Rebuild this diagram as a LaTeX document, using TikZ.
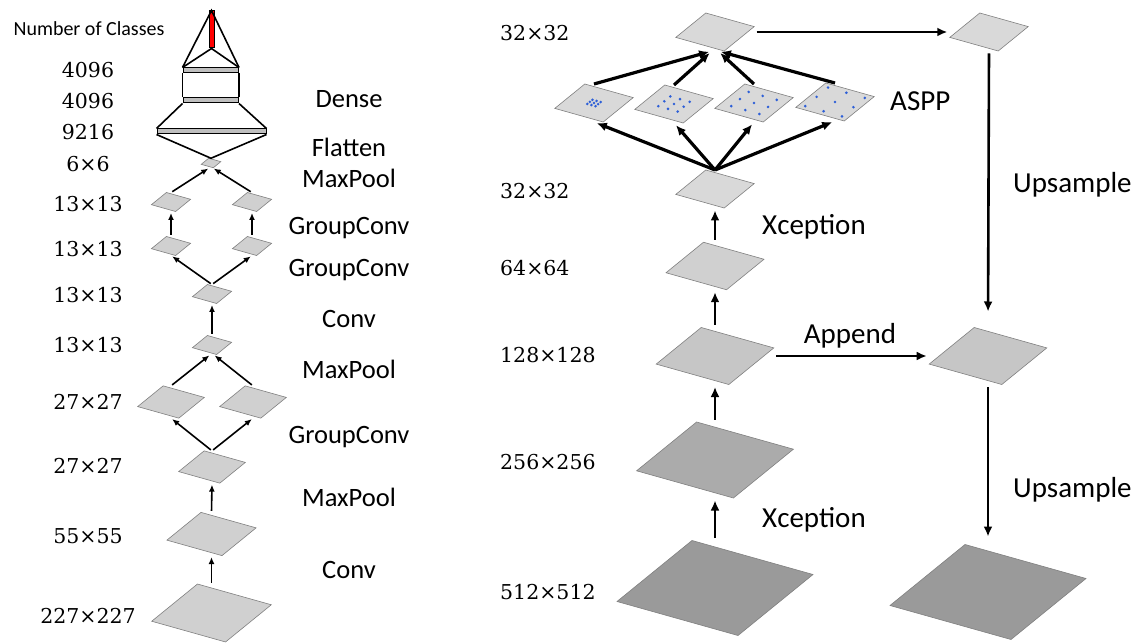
\documentclass[tikz,border=0pt]{standalone}
\usepackage{fontspec}
\setmainfont{Carlito}
\newfontfamily\dimfont{DejaVu Serif}
\usetikzlibrary{arrows.meta,calc}

\definecolor{mapA}{HTML}{D9D9D9}
\definecolor{mapB}{HTML}{C6C6C6}
\definecolor{mapC}{HTML}{ABABAB}
\definecolor{mapD}{HTML}{9A9A9A}
\definecolor{mapL}{HTML}{D0D0D0}
\definecolor{dotblue}{RGB}{45,95,215}

% feature map: name, centre, scale, fill
\newcommand{\fmap}[4]{%
  \coordinate (#1) at (#2);
  \filldraw[fill=#4, draw=black!50, line width=0.6pt, shift={(#1)}, scale=#3]
    (-98,13.5) -- (-23,-47.5) -- (98,-13.5) -- (23,47.5) -- cycle;
  \path (#1) ++(0,-47.5*#3) coordinate (#1-n);
  \path (#1) ++(0,47.5*#3) coordinate (#1-s);
  \path (#1) ++(98*#3,0) coordinate (#1-e);
  \path (#1) ++(-98*#3,0) coordinate (#1-w);
}
% dilated kernel dots on a map of scale 0.4
\newcommand{\holes}[2]{%
  \foreach \i in {-1,0,1}{\foreach \j in {-1,0,1}{
    \fill[dotblue, shift={(#1)}, scale=0.4]
      ({\i*#2*121+\j*#2*75},{\i*#2*34-\j*#2*61}) circle (3.6);
  }}
}

\begin{document}
\begin{tikzpicture}[x=1pt, y=-1pt,
  arr/.style={-{Latex[length=7pt,width=6pt]}, line width=1.6pt, shorten <=1.5pt, shorten >=1.5pt},
  fatarr/.style={-{Latex[length=10pt,width=9pt]}, line width=2.6pt, shorten <=2.5pt, shorten >=2.5pt},
  asparr/.style={-{Latex[length=10pt,width=9pt]}, line width=3.2pt, shorten >=3pt},
  wire/.style={line width=1.6pt},
  bar/.style={draw, line width=1pt, fill=black!25, inner sep=0pt, minimum height=5pt},
  dim/.style={font=\dimfont\fontsize{20.5}{24}\selectfont, inner sep=0pt},
  opl/.style={font=\fontsize{26.5}{30}\selectfont, inner sep=0pt, anchor=base},
  opr/.style={font=\fontsize{29}{33}\selectfont, inner sep=0pt, anchor=base west}]
\useasboundingbox[fill=white] (0,0) rectangle (1141,644);

% AlexNet
\fmap{m227}{211.5,613}{0.61}{mapL}
\fmap{m55}{211.5,534}{0.455}{mapL}
\fmap{m27}{212,467}{0.34}{mapL}
\fmap{m27l}{171,402}{0.34}{mapL}
\fmap{m27r}{253,402}{0.34}{mapL}
\fmap{m13}{212,345}{0.2}{mapL}
\fmap{m13c}{212,294}{0.2}{mapL}
\fmap{m13l}{171,246}{0.2}{mapL}
\fmap{m13r}{252,246}{0.2}{mapL}
\fmap{m13ul}{171,202}{0.2}{mapL}
\fmap{m13ur}{252,202}{0.2}{mapL}
\fmap{m6}{211,163}{0.1}{mapL}

\draw[arr] (m227-n) -- (m55-s);
\draw[arr] (m55-n) -- (m27-s);
\draw[arr] (m27-n) -- (m27l-s);
\draw[arr] (m27-n) -- (m27r-s);
\draw[arr] (m27l-n) -- ([xshift=-1.5pt]m13-s);
\draw[arr] (m27r-n) -- ([xshift=1.5pt]m13-s);
\draw[arr] (m13-n) -- (m13c-s);
\draw[arr] (m13c-n) -- (m13l-s);
\draw[arr] (m13c-n) -- (m13r-s);
\draw[arr] (m13l-n) -- (m13ul-s);
\draw[arr] (m13r-n) -- (m13ur-s);
\draw[arr] (m13ul-n) -- ([xshift=-1.5pt]m6-s);
\draw[arr] (m13ur-n) -- ([xshift=1.5pt]m6-s);

\node[bar, minimum width=109pt] (d9216) at (211.5,131.5) {};
\node[bar, minimum width=55.5pt] (d4096b) at (210.75,100.5) {};
\node[bar, minimum width=55.5pt] (d4096a) at (210.75,70.5) {};
\node[bar, fill=red, minimum width=5pt, minimum height=37pt] (cls) at (211.5,29.5) {};
\draw[wire] (d9216.south west) -- (m6-n) -- (d9216.south east);
\draw[wire] (d9216.north west) -- (d4096b.south west);
\draw[wire] (d9216.north east) -- (d4096b.south east);
\draw[wire] (d4096b.north west) -- (d4096a.south west);
\draw[wire] (d4096b.north east) -- (d4096a.south east);
\draw[wire] (d4096a.north west) -- (cls.north) -- (d4096a.north east);
\draw[wire] (d4096a.north west) -- (cls.south) -- (d4096a.north east);

\node[anchor=base, inner sep=0pt, font=\fontsize{20}{24}\selectfont] (ncls) at (89,36) {Number of Classes};
\foreach \t/\y in {4096/70, 4096/101, 9216/132, 6×6/164, 13×13/204, 13×13/249,
  13×13/295, 13×13/345, 27×27/402, 27×27/466, 55×55/536, 227×227/616}
  \node[dim] (ld-\y) at (88,\y) {\t};
\foreach \t/\y in {Dense/108, Flatten/157, MaxPool/188, GroupConv/235, GroupConv/277,
  Conv/328, MaxPool/378, GroupConv/443, MaxPool/506, Conv/578}
  \node[opl] (lo-\y) at (349,\y) {\t};

% DeepLab
\fmap{r512}{715,588}{1.0}{mapD}
\fmap{r256}{715,460}{0.8}{mapC}
\fmap{r128}{715,356}{0.6}{mapB}
\fmap{r64}{715,266}{0.5}{mapL}
\fmap{r32}{715,189}{0.4}{mapA}
\fmap{aspp1}{594,103}{0.4}{mapA}
\fmap{aspp2}{674,104}{0.4}{mapA}
\fmap{aspp3}{754,103}{0.4}{mapA}
\fmap{aspp4}{835,102}{0.4}{mapA}
\fmap{r32t}{715,32}{0.4}{mapA}
\fmap{up32}{989,32}{0.4}{mapA}
\fmap{up128}{988,356}{0.6}{mapB}
\fmap{up512}{988,592}{1.0}{mapD}
\holes{aspp1}{0.085}
\holes{aspp2}{0.2}
\holes{aspp3}{0.29}
\holes{aspp4}{0.38}

\draw[fatarr] (r512-n) -- (r256-s);
\draw[fatarr] (r256-n) -- (r128-s);
\draw[fatarr] (r128-n) -- (r64-s);
\draw[fatarr] (r64-n) -- (r32-s);
\foreach \k in {1,...,4}
  \draw[asparr] (r32-n) -- (aspp\k-s);
\foreach \k/\dx in {1/-3,2/-3,3/3,4/3}
  \draw[asparr] (aspp\k-n) -- ([xshift=\dx pt]r32t-s);
\draw[fatarr] (r32t-e) -- (up32-w);
\draw[fatarr, shorten >=16pt] (up32-s) -- (up128-n);
\draw[fatarr] (r128-e) -- (up128-w);
\draw[fatarr, shorten >=8pt] (up128-s) -- (up512-n);

\foreach \t/\y in {32×32/33, 32×32/191, 64×64/268, 128×128/355, 256×256/462, 512×512/592}
  \node[dim, anchor=west] (rd-\y) at (500,\y) {\t};
\node[opr] (aspp) at (890,111) {ASPP};
\node[opr] (xc1) at (762,235) {Xception};
\node[opr] (xc2) at (762,527) {Xception};
\node[opr, anchor=base] (app) at (850,344) {Append};
\node[opr] (ups1) at (1013,193) {Upsample};
\node[opr] (ups2) at (1013,497) {Upsample};
\end{tikzpicture}
\end{document}
